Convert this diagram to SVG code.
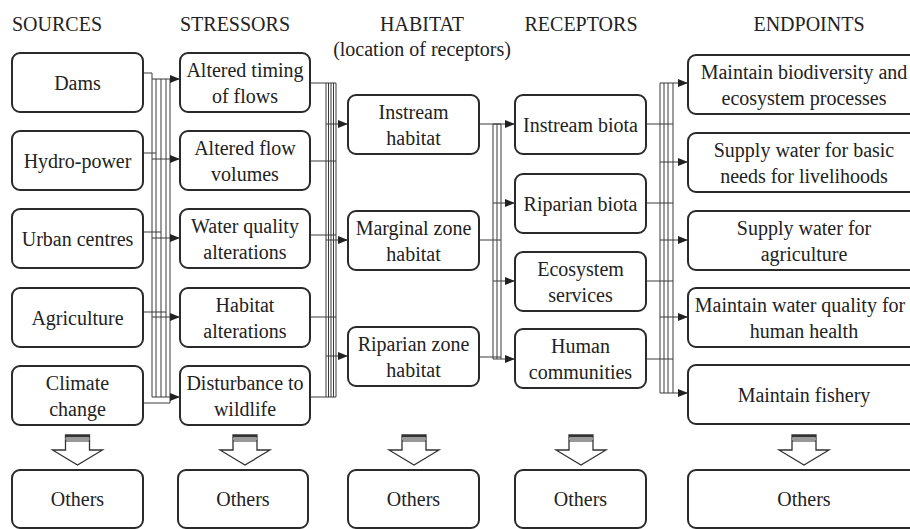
<svg xmlns="http://www.w3.org/2000/svg" width="910" height="529" viewBox="0 0 910 529" font-family="'Liberation Serif', 'Times New Roman', Tinos, 'DejaVu Serif', serif">
<style>
.box{fill:#fff;stroke:#2a2a2a;stroke-width:2}
.t{font-family:'Liberation Serif','Times New Roman',Tinos,'DejaVu Serif',serif;font-size:20px;fill:#222;text-anchor:middle}
.ln{stroke:#3a3a3a;stroke-width:1;fill:none}
.ar{stroke:#3a3a3a;stroke-width:1;fill:none;marker-end:url(#ah)}
.blk{fill:#fff;stroke:#333;stroke-width:1.3}
</style>
<defs>
<marker id="ah" markerUnits="userSpaceOnUse" markerWidth="10" markerHeight="8" refX="10" refY="4" orient="auto">
<path d="M0,0 L10,4 L0,8 z" fill="#222"/>
</marker>
<g id="blockarrow">
<polygon class="blk" points="-12,435 12,435 12,450 25,450 0,465 -25,450 -12,450"/>
<rect x="-12" y="435" width="24" height="2.5" fill="#333"/>
<rect x="-12" y="437.5" width="24" height="2.5" fill="#999"/>
<line x1="-12" y1="441" x2="12" y2="441" stroke="#333" stroke-width="1"/>
</g>
</defs>
<rect width="910" height="529" fill="#fff"/>

<g id="headers">
<text class="t" x="57" y="31">SOURCES</text>
<text class="t" x="235" y="31">STRESSORS</text>
<text class="t" x="422" y="31">HABITAT</text>
<text class="t" x="422" y="56">(location of receptors)</text>
<text class="t" x="581" y="31">RECEPTORS</text>
<text class="t" x="809" y="31">ENDPOINTS</text>
</g>

<g id="connectors">
<path class="ln" d="M143,73H152M143,153H156M143,232H161M143,312H166M143,403H170"/>
<path class="ln" d="M152,73V397M156,79V397M161,79V397M166,79V397M170,79V403"/>
<path class="ar" d="M152,79H180"/>
<path class="ar" d="M152,159H180"/>
<path class="ar" d="M152,238H180"/>
<path class="ar" d="M152,317H180"/>
<path class="ar" d="M152,397H180"/>
<path class="ln" d="M310,83H336M310,161H336M310,235H336M310,317H336M310,397H336"/>
<path class="ln" d="M326,83V397M328.5,83V397M331,83V397M333.5,83V397M336,83V397"/>
<path class="ar" d="M326,124H348"/>
<path class="ar" d="M326,240H348"/>
<path class="ar" d="M326,356H348"/>
<path class="ln" d="M479,124H501M479,240H501M479,357H501"/>
<path class="ln" d="M493,124V359M497,124V359M501,124V359"/>
<path class="ar" d="M493,124H515"/>
<path class="ar" d="M493,203H515"/>
<path class="ar" d="M493,281H515"/>
<path class="ar" d="M493,359H515"/>
<path class="ln" d="M646,124H673M646,203H673M646,281H673M646,359H673"/>
<path class="ln" d="M660,83V393M664,83V393M668,83V393M673,83V393"/>
<path class="ar" d="M660,83H688"/>
<path class="ar" d="M660,162H688"/>
<path class="ar" d="M660,240H688"/>
<path class="ar" d="M660,317H688"/>
<path class="ar" d="M660,393H688"/>
<use href="#blockarrow" x="77.5"/>
<use href="#blockarrow" x="245"/>
<use href="#blockarrow" x="414"/>
<use href="#blockarrow" x="581"/>
<use href="#blockarrow" x="804"/>
</g>

<g id="src-dams"><rect class="box" x="12" y="53" width="131" height="59" rx="8"/><text class="t" x="77.5" y="89.5">Dams</text></g>
<g id="src-hydro"><rect class="box" x="12" y="131" width="131" height="59" rx="8"/><text class="t" x="77.5" y="167.5">Hydro-power</text></g>
<g id="src-urban"><rect class="box" x="12" y="209" width="131" height="59" rx="8"/><text class="t" x="77.5" y="245.5">Urban centres</text></g>
<g id="src-agri"><rect class="box" x="12" y="288" width="131" height="59" rx="8"/><text class="t" x="77.5" y="324.5">Agriculture</text></g>
<g id="src-climate"><rect class="box" x="12" y="366" width="131" height="59" rx="8"/><text class="t" x="77.5" y="389.5">Climate</text><text class="t" x="77.5" y="415.5">change</text></g>
<g id="src-others"><rect class="box" x="12" y="470" width="131" height="58" rx="8"/><text class="t" x="77.5" y="506">Others</text></g>

<g id="str-timing"><rect class="box" x="180" y="53" width="130" height="59" rx="8"/><text class="t" x="245" y="76.5">Altered timing</text><text class="t" x="245" y="102.5">of flows</text></g>
<g id="str-volumes"><rect class="box" x="180" y="131" width="130" height="59" rx="8"/><text class="t" x="245" y="154.5">Altered flow</text><text class="t" x="245" y="180.5">volumes</text></g>
<g id="str-quality"><rect class="box" x="180" y="209" width="130" height="59" rx="8"/><text class="t" x="245" y="232.5">Water quality</text><text class="t" x="245" y="258.5">alterations</text></g>
<g id="str-habitat"><rect class="box" x="180" y="288" width="130" height="59" rx="8"/><text class="t" x="245" y="311.5">Habitat</text><text class="t" x="245" y="337.5">alterations</text></g>
<g id="str-wildlife"><rect class="box" x="180" y="366" width="130" height="59" rx="8"/><text class="t" x="245" y="389.5">Disturbance to</text><text class="t" x="245" y="415.5">wildlife</text></g>
<g id="str-others"><rect class="box" x="178" y="470" width="130" height="58" rx="8"/><text class="t" x="243" y="506">Others</text></g>

<g id="hab-instream"><rect class="box" x="348" y="95" width="131" height="59" rx="8"/><text class="t" x="413.5" y="118.5">Instream</text><text class="t" x="413.5" y="144.5">habitat</text></g>
<g id="hab-marginal"><rect class="box" x="348" y="211" width="131" height="59" rx="8"/><text class="t" x="413.5" y="234.5">Marginal zone</text><text class="t" x="413.5" y="260.5">habitat</text></g>
<g id="hab-riparian"><rect class="box" x="348" y="327" width="131" height="59" rx="8"/><text class="t" x="413.5" y="350.5">Riparian zone</text><text class="t" x="413.5" y="376.5">habitat</text></g>
<g id="hab-others"><rect class="box" x="348" y="470" width="131" height="58" rx="8"/><text class="t" x="413.5" y="506">Others</text></g>

<g id="rec-instream"><rect class="box" x="515" y="95" width="131" height="59" rx="8"/><text class="t" x="580.5" y="131.5">Instream biota</text></g>
<g id="rec-riparian"><rect class="box" x="515" y="174" width="131" height="59" rx="8"/><text class="t" x="580.5" y="210.5">Riparian biota</text></g>
<g id="rec-ecosystem"><rect class="box" x="515" y="252" width="131" height="59" rx="8"/><text class="t" x="580.5" y="275.5">Ecosystem</text><text class="t" x="580.5" y="301.5">services</text></g>
<g id="rec-human"><rect class="box" x="515" y="329" width="131" height="59" rx="8"/><text class="t" x="580.5" y="352.5">Human</text><text class="t" x="580.5" y="378.5">communities</text></g>
<g id="rec-others"><rect class="box" x="515" y="470" width="131" height="58" rx="8"/><text class="t" x="580.5" y="506">Others</text></g>

<g id="end-biodiversity"><rect class="box" x="688" y="55" width="232" height="59" rx="8"/><text class="t" x="804" y="78.5">Maintain biodiversity and</text><text class="t" x="804" y="104.5">ecosystem processes</text></g>
<g id="end-livelihoods"><rect class="box" x="688" y="133" width="232" height="59" rx="8"/><text class="t" x="804" y="156.5">Supply water for basic</text><text class="t" x="804" y="182.5">needs for livelihoods</text></g>
<g id="end-agriculture"><rect class="box" x="688" y="211" width="232" height="59" rx="8"/><text class="t" x="804" y="234.5">Supply water for</text><text class="t" x="804" y="260.5">agriculture</text></g>
<g id="end-quality"><rect class="box" x="688" y="288" width="232" height="59" rx="8"/><text class="t" x="800" y="311.5">Maintain water quality for</text><text class="t" x="804" y="337.5">human health</text></g>
<g id="end-fishery"><rect class="box" x="688" y="365" width="232" height="59" rx="8"/><text class="t" x="804" y="401.5">Maintain fishery</text></g>
<g id="end-others"><rect class="box" x="688" y="470" width="232" height="58" rx="8"/><text class="t" x="804" y="506">Others</text></g>
</svg>
